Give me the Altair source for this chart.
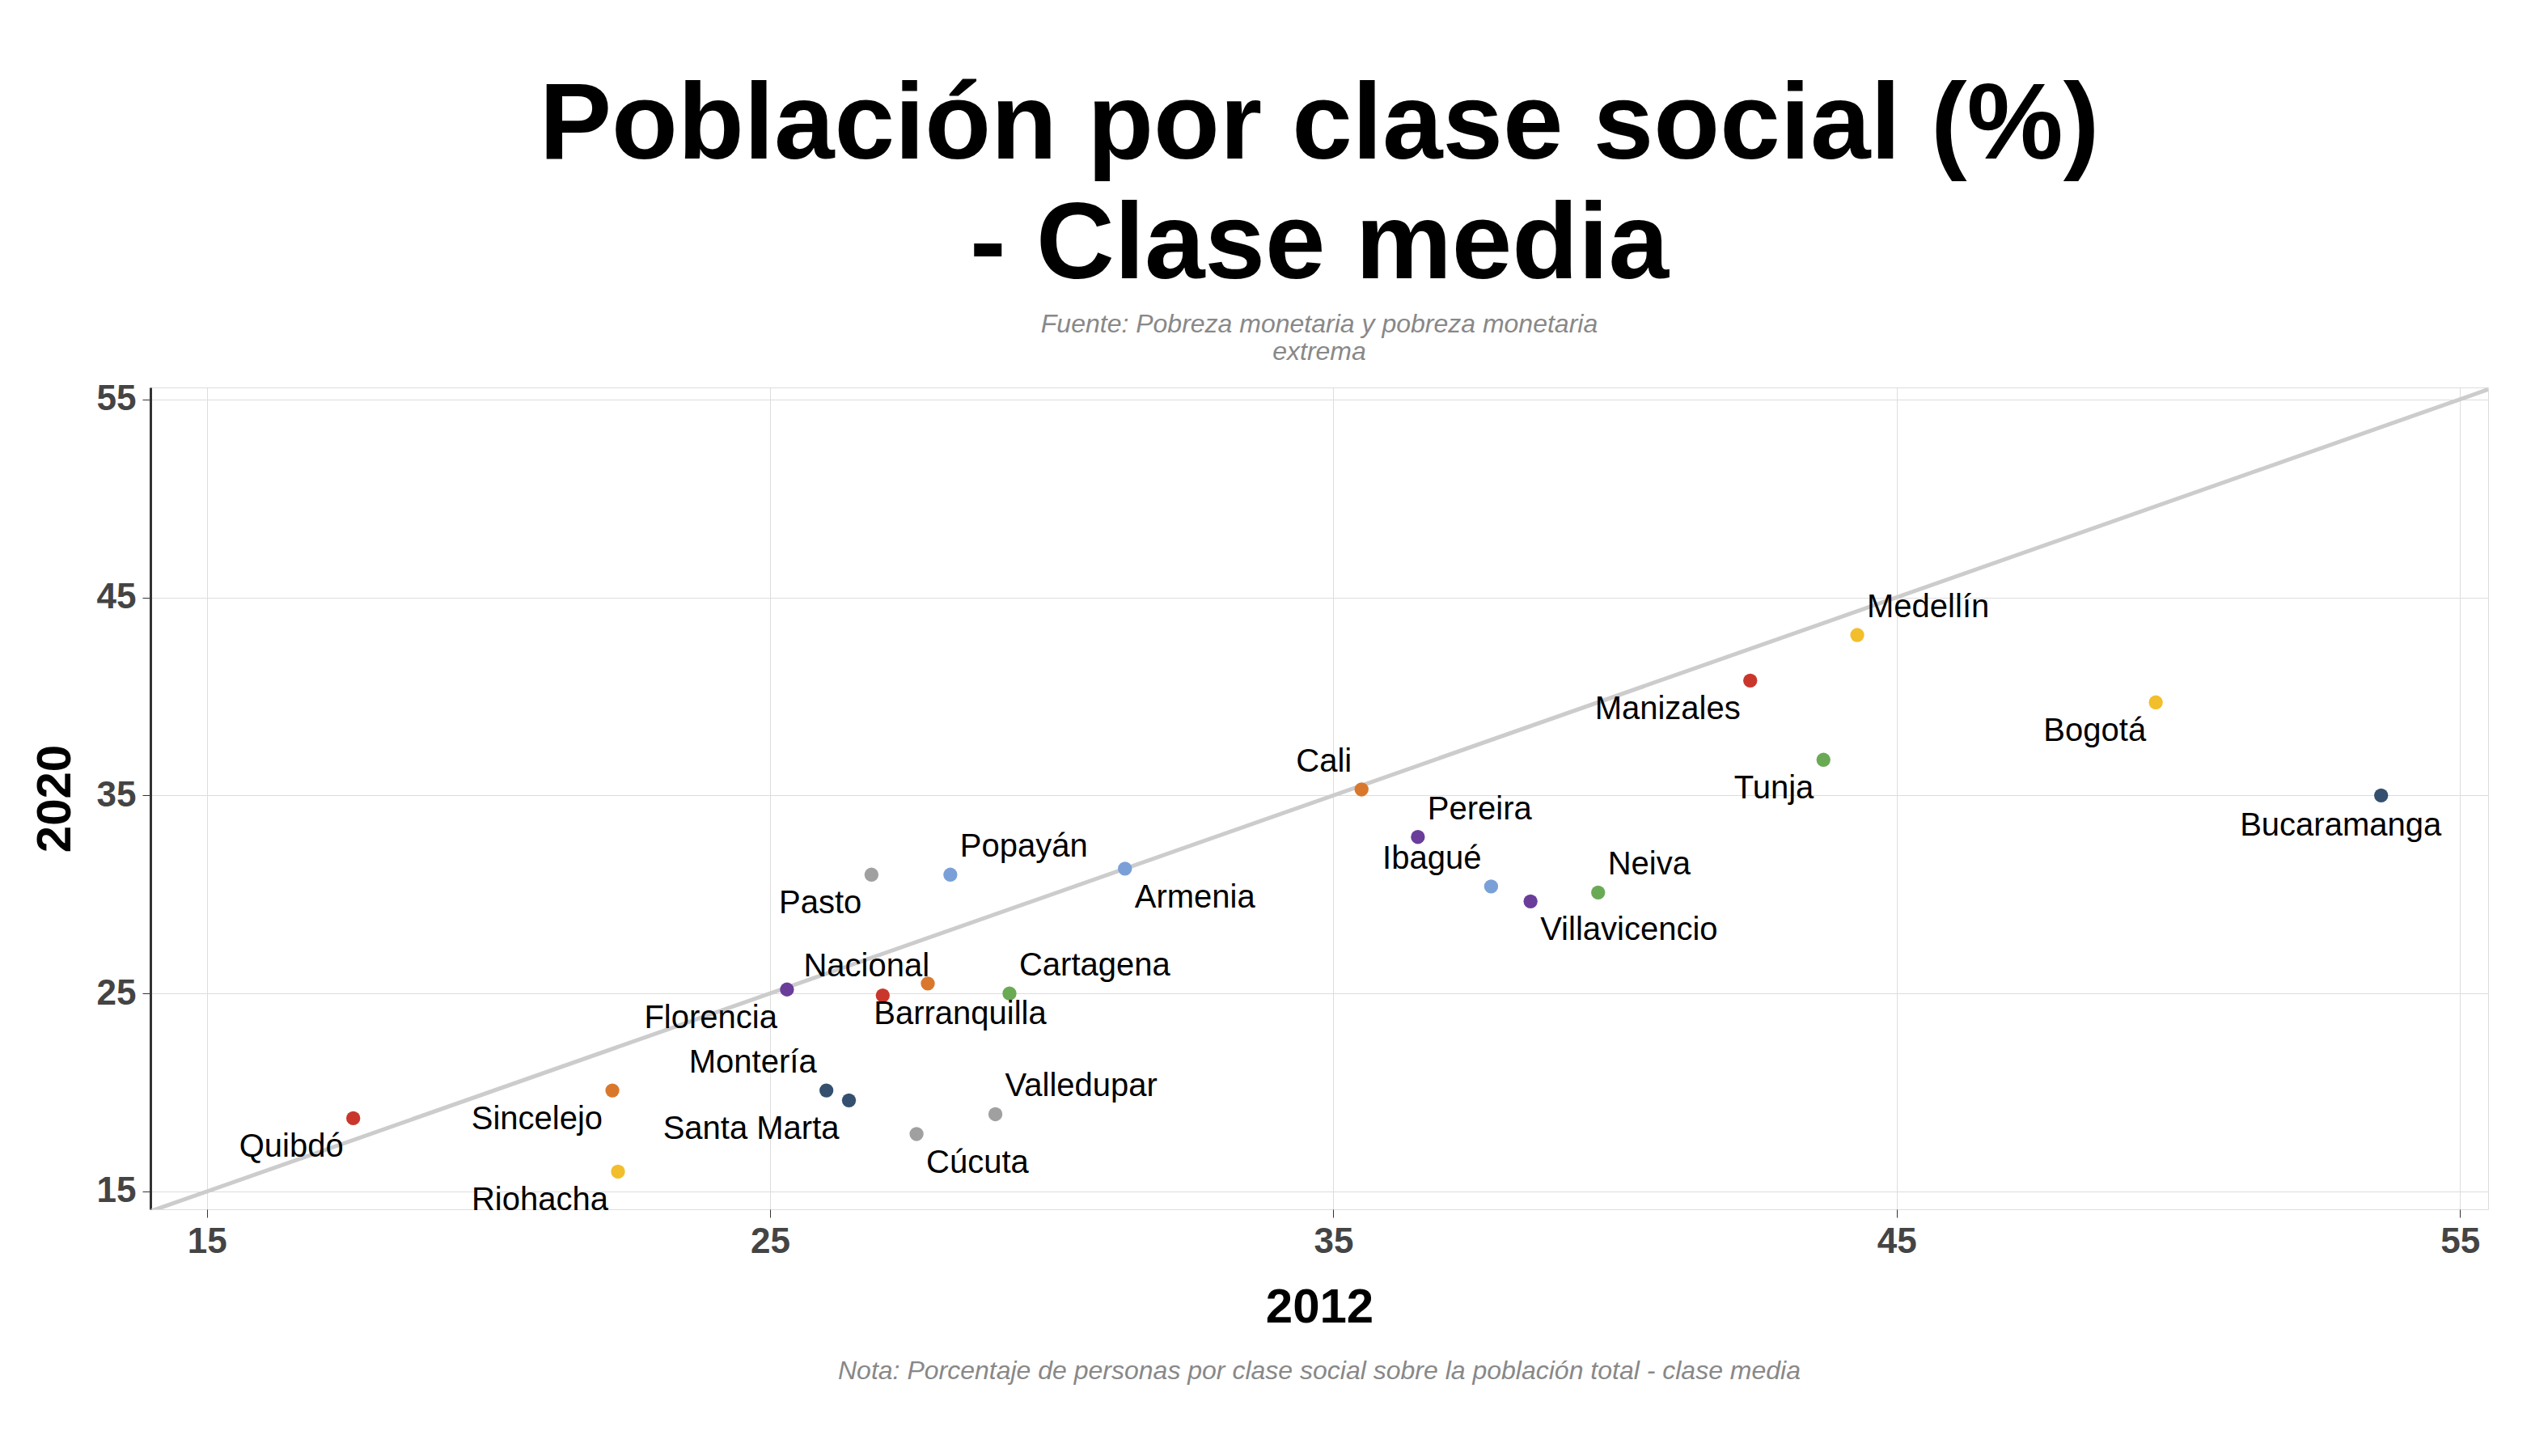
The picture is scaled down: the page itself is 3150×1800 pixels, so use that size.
import altair as alt
import pandas as pd

cities = ["Quibdó","Sincelejo","Riohacha","Florencia","Nacional","Barranquilla","Cartagena",
          "Montería","Santa Marta","Cúcuta","Valledupar","Pasto","Popayán","Armenia","Cali",
          "Pereira","Ibagué","Villavicencio","Neiva","Tunja","Manizales","Medellín","Bogotá","Bucaramanga"]
x2012 = [17.6,22.2,22.3,25.3,27.0,27.8,29.25,26.0,26.4,27.6,29.0,26.8,28.2,31.3,35.5,
         36.5,37.8,38.5,39.7,43.7,42.4,44.3,49.6,53.6]
y2020 = [18.7,20.1,16.0,25.2,24.9,25.5,25.0,20.1,19.6,17.9,18.9,31.0,31.0,31.3,35.3,
         32.9,30.4,29.65,30.1,36.8,40.8,43.1,39.7,35.0]
colors = ["#C9372C","#D9782D","#F2BE2C","#6A3D9A","#C9372C","#D9782D","#6AAA55",
          "#34506E","#34506E","#A0A0A0","#A0A0A0","#A0A0A0","#7BA0D8","#7BA0D8","#D9782D",
          "#6A3D9A","#7BA0D8","#6A3D9A","#6AAA55","#6AAA55","#C9372C","#F2BE2C","#F2BE2C","#34506E"]
anchors = ["bl","bl","bl","bl","tc","bc","tr","tl","bl","br","tr","bl","tr","br","tl",
           "tr","tl","br","tr","bl","bl","tr","bl","bcl"]

df = pd.DataFrame({"city": cities, "x": x2012, "y": y2020, "color": colors, "anchor": anchors})
line_df = pd.DataFrame({"x": [14.0, 55.5], "y": [14.0, 55.5]})

W, H = 2890, 1016
xs = alt.Scale(domain=[14, 55.5], nice=False, zero=False)
ys = alt.Scale(domain=[14.1, 55.6], nice=False, zero=False)
xenc = alt.X("x:Q", scale=xs, title="2012",
             axis=alt.Axis(values=[15, 25, 35, 45, 55], labelFontSize=44, labelFontWeight="bold",
                           titleFontSize=60, titleFontWeight="bold", titlePadding=30,
                           labelColor="#444", titleColor="black", domain=False, tickColor="#333",
                           tickSize=10, labelPadding=8))
yenc = alt.Y("y:Q", scale=ys, title="2020",
             axis=alt.Axis(values=[15, 25, 35, 45, 55], labelFontSize=44, labelFontWeight="bold",
                           titleFontSize=60, titleFontWeight="bold", titlePadding=20,
                           labelColor="#444", titleColor="black", domainColor="#333", domainWidth=3,
                           tickColor="#333", tickSize=10, labelPadding=8))

line = alt.Chart(line_df).mark_line(color="#CCCCCC", strokeWidth=5, clip=True).encode(x=xenc, y=yenc)
pts = alt.Chart(df).mark_circle(size=300, opacity=1).encode(
    x=xenc, y=yenc, color=alt.Color("color:N", scale=None))

offs = {"bl": ("right", -12, 36), "br": ("left", 12, 36), "tl": ("right", -12, -34),
        "tr": ("left", 12, -34), "tc": ("center", -20, -36), "bc": ("center", 40, 38),
        "bcl": ("center", -50, 38)}
labels = []
for k, (al, dx, dy) in offs.items():
    labels.append(alt.Chart(df).transform_filter(alt.datum.anchor == k).mark_text(
        align=al, dx=dx, dy=dy, fontSize=40, font="Arial", color="black").encode(
        x=xenc, y=yenc, text="city:N"))

note = alt.Chart(pd.DataFrame({"t": ["Nota: Porcentaje de personas por clase social sobre la población total - clase media"]})).mark_text(
    fontSize=32, fontStyle="italic", color="#888", font="Arial").encode(
    text="t:N", x=alt.value(W / 2), y=alt.value(H + 200))

chart = alt.layer(line, pts, *labels, note).properties(
    width=W, height=H,
    title=alt.TitleParams(["Población por clase social (%)", "- Clase media"],
                          subtitle=["Fuente: Pobreza monetaria y pobreza monetaria", "extrema"],
                          fontSize=134, font="Arial", fontWeight="bold", lineHeight=148,
                          subtitleFontSize=32, subtitleFontStyle="italic", subtitleColor="#888",
                          subtitleFont="Arial", anchor="middle", offset=20, subtitlePadding=14)
).configure_view(fill="#F4F4F4", stroke=None).configure_axis(
    gridColor="#E4E4E4", gridWidth=3, labelFont="Arial", titleFont="Arial"
).configure(background="white", padding={"left": 30, "right": 20, "top": 80, "bottom": 10})

chart.save("out.html", embed_options={"renderer": "svg", "actions": False})
